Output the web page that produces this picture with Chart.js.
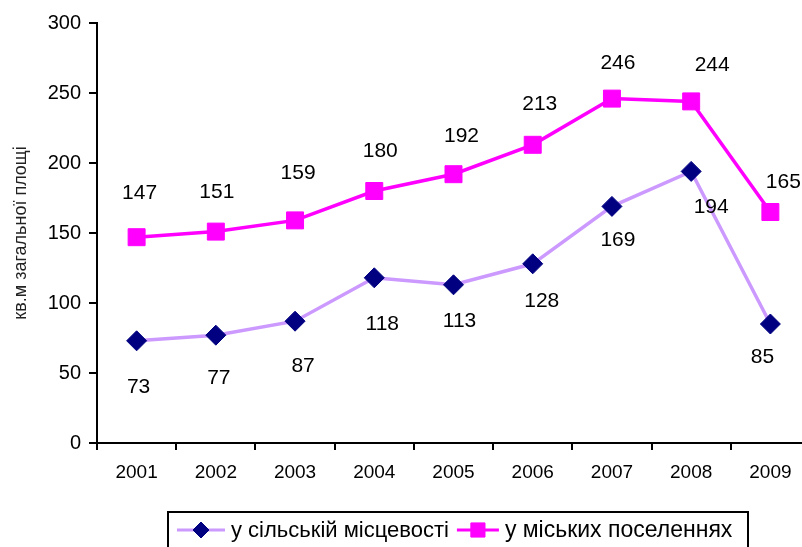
<!DOCTYPE html>
<html>
<head>
<meta charset="utf-8">
<script src="https://cdn.jsdelivr.net/npm/chart.js@4.4.1/dist/chart.umd.min.js"></script>
<style>
  html, body { margin: 0; padding: 0; background: #fff; overflow: hidden; }
  #wrap { width: 823px; height: 547px; }
</style>
</head>
<body>
<div id="wrap"><canvas id="c" width="823" height="547"></canvas></div>
<script>
const years = ['2001','2002','2003','2004','2005','2006','2007','2008','2009'];
const rural = [73, 77, 87, 118, 113, 128, 169, 194, 85];
const urban = [147, 151, 159, 180, 192, 213, 246, 244, 165];
const ruralLabel = 'у сільській місцевості';
const urbanLabel = 'у міських поселеннях';
const yTitle = 'кв.м загальної площі';

const FONT = '"Liberation Sans", Arial, sans-serif';

// label offsets (px) relative to each point: [dx, dy]
const labelOffsets = [
  [[2,46],[3,43],[8,45],[8,46],[6,36],[9,37],[6,34],[20,36],[-8,33]],
  [[3,-44],[1,-39],[3,-47],[6,-40],[8,-38],[7,-41],[6,-35],[21,-36],[13,-30]]
];

const dataLabelPlugin = {
  id: 'dataLabels',
  afterDatasetsDraw(chart) {
    const ctx = chart.ctx;
    ctx.save();
    ctx.font = '21px ' + FONT;
    ctx.fillStyle = '#000';
    ctx.textAlign = 'center';
    ctx.textBaseline = 'middle';
    chart.data.datasets.forEach((ds, di) => {
      const meta = chart.getDatasetMeta(di);
      meta.data.forEach((pt, i) => {
        const off = labelOffsets[di][i];
        ctx.fillText(String(ds.data[i]), pt.x + off[0], pt.y + off[1]);
      });
    });
    ctx.restore();
  }
};

const legendPlugin = {
  id: 'boxLegend',
  afterDraw(chart) {
    const ctx = chart.ctx;
    ctx.save();
    ctx.textBaseline = 'middle';
    ctx.textAlign = 'left';
    const top = 512, cy = 530;
    const left = 168, boxW = 580;
    let x = 177;
    chart.data.datasets.forEach((ds, di) => {
      const lineLen = di === 0 ? 48 : 42;
      ctx.strokeStyle = ds.borderColor;
      ctx.lineWidth = 3;
      ctx.beginPath();
      ctx.moveTo(x, cy);
      ctx.lineTo(x + lineLen, cy);
      ctx.stroke();
      ctx.fillStyle = ds.pointBackgroundColor;
      ctx.strokeStyle = ds.pointBorderColor;
      ctx.lineWidth = 1;
      Chart.helpers.drawPoint(ctx, {
        pointStyle: ds.pointStyle, radius: di === 0 ? 8 : 10, borderWidth: 1, rotation: 0
      }, x + lineLen / 2, cy);
      ctx.fillStyle = '#000';
      ctx.font = (di === 0 ? '22px ' : '23px ') + FONT;
      ctx.fillText(ds.label, x + lineLen + 6, cy + 1);
      x += lineLen + 6 + ctx.measureText(ds.label).width + 8;
    });
    ctx.strokeStyle = '#000';
    ctx.lineWidth = 2;
    ctx.strokeRect(left, top, boxW, 60);
    ctx.restore();
  }
};

new Chart(document.getElementById('c'), {
  type: 'line',
  data: {
    labels: years,
    datasets: [
      {
        label: ruralLabel,
        data: rural,
        borderColor: '#CC99FF',
        borderWidth: 3.5,
        pointStyle: 'rectRot',
        pointRadius: 10,
        pointHoverRadius: 10,
        pointBackgroundColor: '#000080',
        pointBorderColor: '#000080',
        pointBorderWidth: 1,
        tension: 0,
        fill: false
      },
      {
        label: urbanLabel,
        data: urban,
        borderColor: '#FF00FF',
        borderWidth: 3.5,
        pointStyle: 'rect',
        pointRadius: 12,
        pointHoverRadius: 12,
        pointBackgroundColor: '#FF00FF',
        pointBorderColor: '#FF00FF',
        pointBorderWidth: 1,
        tension: 0,
        fill: false
      }
    ]
  },
  options: {
    responsive: false,
    animation: false,
    events: [],
    layout: { padding: { left: 0, top: 23, right: 1, bottom: 52 } },
    plugins: {
      legend: { display: false },
      tooltip: { enabled: false }
    },
    scales: {
      x: {
        offset: true,
        grid: {
          display: true,
          offset: true,
          drawOnChartArea: false,
          drawTicks: true,
          tickLength: 7,
          color: '#000',
          lineWidth: 2
        },
        border: { display: true, color: '#000', width: 2 },
        ticks: {
          color: '#000',
          font: { family: FONT, size: 19 },
          padding: 11,
          maxRotation: 0,
          autoSkip: false
        },
        afterFit(scale) { scale.height = 52; }
      },
      y: {
        min: 0,
        max: 300,
        ticks: {
          stepSize: 50,
          color: '#000',
          font: { family: FONT, size: 20 },
          padding: 8
        },
        grid: {
          display: true,
          drawOnChartArea: false,
          drawTicks: true,
          tickLength: 8,
          color: '#000',
          lineWidth: 2
        },
        border: { display: true, color: '#000', width: 2 },
        title: {
          display: true,
          text: yTitle,
          color: '#222',
          font: { family: FONT, size: 18 },
          padding: { top: 10, bottom: 0 }
        },
        afterFit(scale) { scale.width = 97; }
      }
    }
  },
  plugins: [dataLabelPlugin, legendPlugin]
});
</script>
</body>
</html>
